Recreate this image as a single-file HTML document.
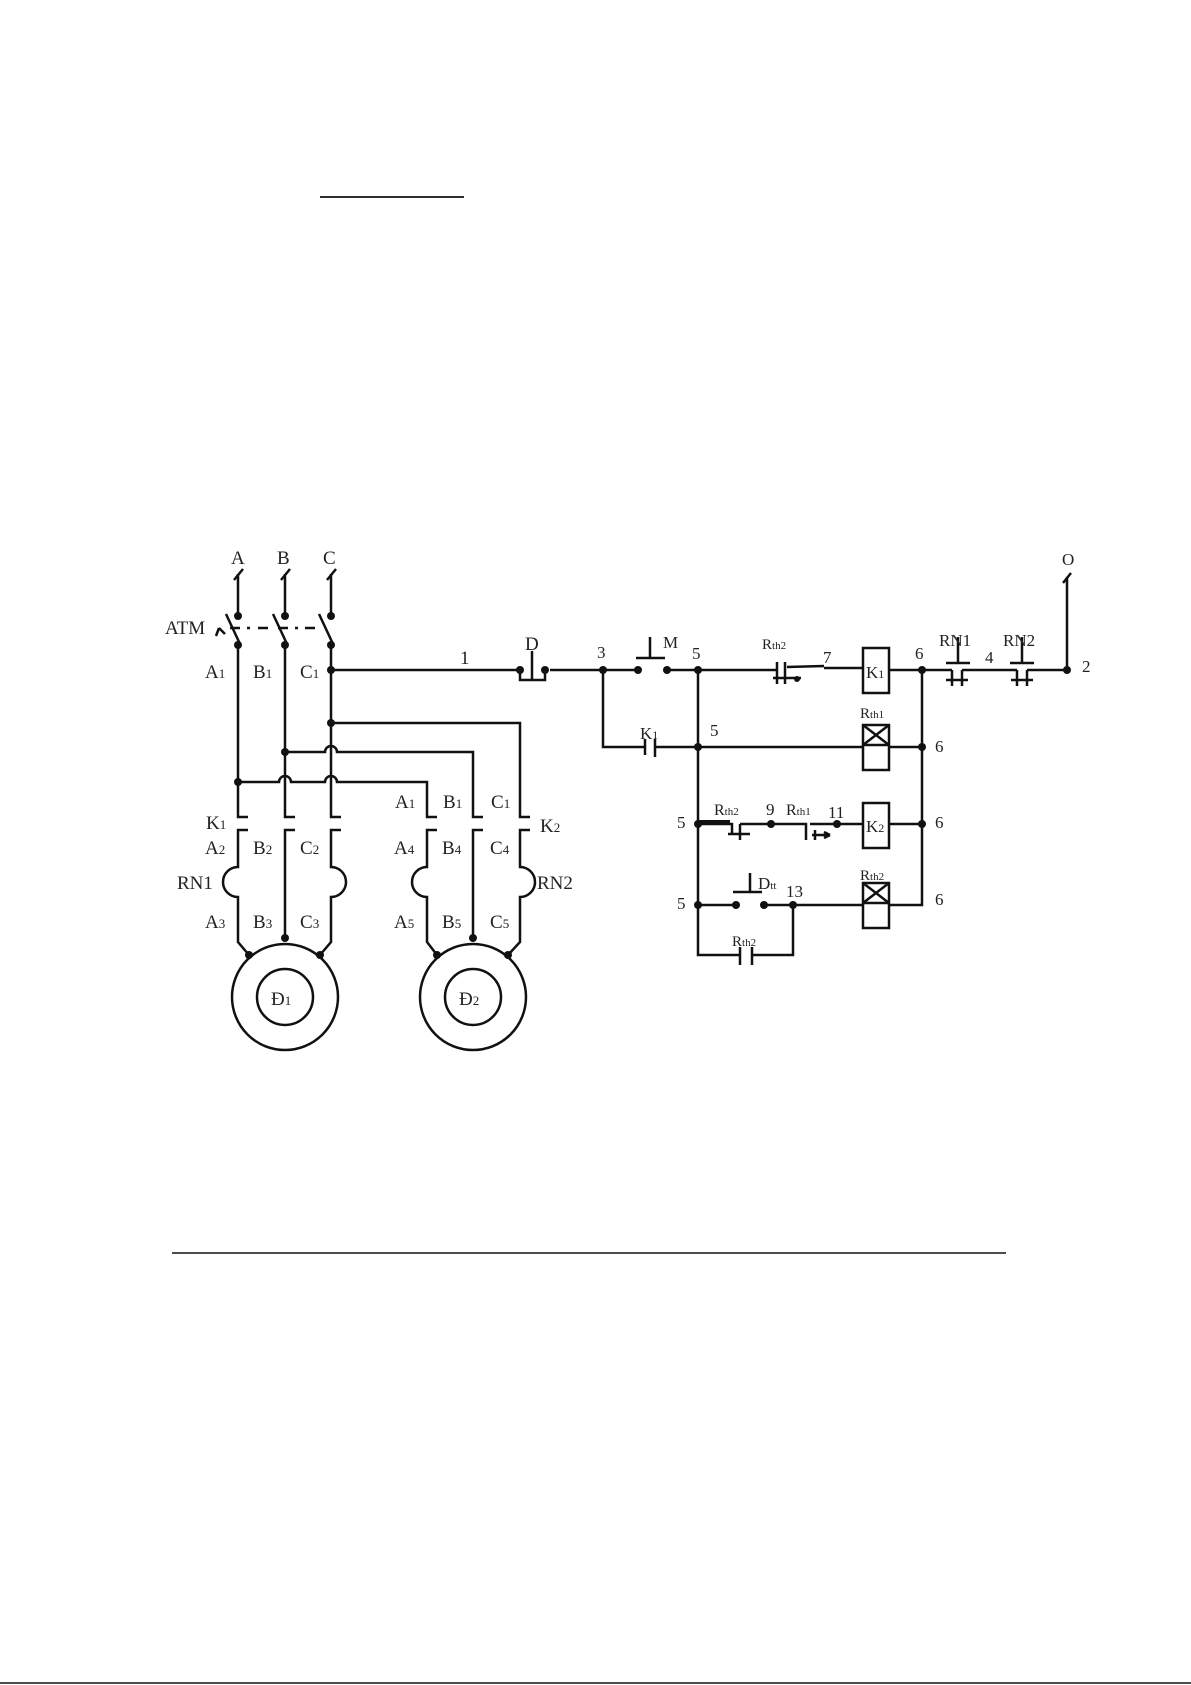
<!DOCTYPE html>
<html><head><meta charset="utf-8"><style>
html,body{margin:0;padding:0;background:#fff;}
svg{display:block;}
text{font-family:"Liberation Serif",serif;fill:#222;}
</style></head><body>
<svg width="1191" height="1685" viewBox="0 0 1191 1685" xmlns="http://www.w3.org/2000/svg">
<g stroke="#111" stroke-width="2.5" fill="none">
<line x1="320" y1="197" x2="464" y2="197" stroke-width="1.8"/>
<line x1="172" y1="1253" x2="1006" y2="1253" stroke-width="1.5"/>
<line x1="0" y1="1683" x2="1191" y2="1683" stroke-width="1.5"/>

<!-- supply arrows -->
<path d="M238 616V574M285 616V574M331 616V574"/>
<path d="M234 580L243 569M281 580L290 569M327 580L336 569"/>
<!-- ATM blades -->
<path d="M226 614L240 644M273 614L287 644M319 614L333 644"/>
<path d="M230 628H250M258 628H270M278 628H298M305 628H320" stroke-dasharray="10 7"/>
<path d="M219 628l6 6M219 628l-3 8"/>
<!-- phase verticals top -->
<path d="M238 645V817H248M285 645V817H295M331 645V817H341"/>
<!-- C1 to D -->
<path d="M331 670H520"/>
<!-- cross connections -->
<path d="M331 723H520V817H530"/>
<path d="M285 752H325a6 6 0 0 1 12 0H473V817H483"/>
<path d="M238 782H279a6 6 0 0 1 12 0H325a6 6 0 0 1 12 0H427V817H437"/>
<!-- lower portions motor1 -->
<path d="M248 830H238V867a15 15 0 0 0 0 30V942L249 955"/>
<path d="M295 830H285V938"/>
<path d="M341 830H331V867a15 15 0 0 1 0 30V942L320 955"/>
<!-- lower portions motor2 -->
<path d="M437 830H427V867a15 15 0 0 0 0 30V942L437 955"/>
<path d="M483 830H473V938"/>
<path d="M530 830H520V867a15 15 0 0 1 0 30V942L508 955"/>
<circle cx="285" cy="997" r="53"/><circle cx="285" cy="997" r="28"/>
<circle cx="473" cy="997" r="53"/><circle cx="473" cy="997" r="28"/>

<!-- control: D button -->
<path d="M520 670V680H545V670M532 680V651"/>
<path d="M550 670H638M667 670H698"/>
<path d="M636 658H665M650 658V637"/>
<path d="M603 670V747H645M655 747H698M645 739V755M655 739V757"/>
<!-- row1 -->
<path d="M698 670H777M777 662V684M785 662V684M773 678H801M787 667L824 666M824 668H863"/>
<rect x="863" y="648" width="26" height="45"/>
<path d="M889 670H952M962 670H1017M1027 670H1067V577"/>
<path d="M946 663H970M958 663V637M1010 663H1034M1022 663V637"/>
<path d="M952 670V686M962 670V686M1017 670V686M1027 670V686M946 680H968M1011 680H1033"/>
<path d="M1063 583l8-10"/>
<!-- row2 -->
<path d="M698 747H863M889 747H922"/>
<rect x="863" y="725" width="26" height="45"/><path d="M863 745H889M863 725L889 745M889 725L863 745"/>
<!-- verticals -->
<path d="M698 670V955H740M752 955H793V905M740 947V965M752 947V965"/>
<path d="M922 670V905H889"/>
<!-- row3 -->
<path d="M698 824H732V835M740 824V840M732 835M728 834H750M740 824H771H806V840M815 840V830M812 835H830M830 835l-6-3M830 835l-6 3M837 824H863M889 824H922"/>
<path d="M698 822H730" stroke-width="4"/>
<path d="M810 824H837"/>
<rect x="863" y="803" width="26" height="45"/>
<!-- row4 -->
<path d="M698 905H736M764 905H863M733 892H762M750 892V873"/>
<rect x="863" y="883" width="26" height="45"/><path d="M863 903H889M863 883L889 903M889 883L863 903"/>
</g>
<g fill="#111">
<circle cx="238" cy="616" r="4"/><circle cx="285" cy="616" r="4"/><circle cx="331" cy="616" r="4"/>
<circle cx="238" cy="645" r="4"/><circle cx="285" cy="645" r="4"/><circle cx="331" cy="645" r="4"/>
<circle cx="331" cy="670" r="4"/><circle cx="331" cy="723" r="4"/><circle cx="285" cy="752" r="4"/><circle cx="238" cy="782" r="4"/>
<circle cx="249" cy="955" r="4"/><circle cx="320" cy="955" r="4"/><circle cx="285" cy="938" r="4"/>
<circle cx="437" cy="955" r="4"/><circle cx="508" cy="955" r="4"/><circle cx="473" cy="938" r="4"/>
<circle cx="520" cy="670" r="4"/><circle cx="545" cy="670" r="4"/>
<circle cx="603" cy="670" r="4"/><circle cx="638" cy="670" r="4"/><circle cx="667" cy="670" r="4"/><circle cx="698" cy="670" r="4"/>
<circle cx="698" cy="747" r="4"/><circle cx="922" cy="670" r="4"/><circle cx="922" cy="747" r="4"/><circle cx="1067" cy="670" r="4"/>
<circle cx="698" cy="824" r="4"/><circle cx="771" cy="824" r="4"/><circle cx="837" cy="824" r="4"/><circle cx="922" cy="824" r="4"/>
<circle cx="698" cy="905" r="4"/><circle cx="736" cy="905" r="4"/><circle cx="764" cy="905" r="4"/><circle cx="793" cy="905" r="4"/>
<circle cx="797" cy="679" r="3"/>
</g>
<g font-size="19">
<text x="231" y="564">A</text><text x="277" y="564">B</text><text x="323" y="564">C</text>
<text x="165" y="634">ATM</text>
<text x="205" y="678">A<tspan font-size="13">1</tspan></text>
<text x="253" y="678">B<tspan font-size="13">1</tspan></text>
<text x="300" y="678">C<tspan font-size="13">1</tspan></text>
<text x="460" y="664">1</text><text x="525" y="650">D</text>
<text x="206" y="829">K<tspan font-size="13">1</tspan></text>
<text x="205" y="854">A<tspan font-size="13">2</tspan></text>
<text x="253" y="854">B<tspan font-size="13">2</tspan></text>
<text x="300" y="854">C<tspan font-size="13">2</tspan></text>
<text x="177" y="889">RN1</text>
<text x="205" y="928">A<tspan font-size="13">3</tspan></text>
<text x="253" y="928">B<tspan font-size="13">3</tspan></text>
<text x="300" y="928">C<tspan font-size="13">3</tspan></text>
<text x="395" y="808">A<tspan font-size="13">1</tspan></text>
<text x="443" y="808">B<tspan font-size="13">1</tspan></text>
<text x="491" y="808">C<tspan font-size="13">1</tspan></text>
<text x="540" y="832">K<tspan font-size="13">2</tspan></text>
<text x="394" y="854">A<tspan font-size="13">4</tspan></text>
<text x="442" y="854">B<tspan font-size="13">4</tspan></text>
<text x="490" y="854">C<tspan font-size="13">4</tspan></text>
<text x="537" y="889">RN2</text>
<text x="394" y="928">A<tspan font-size="13">5</tspan></text>
<text x="442" y="928">B<tspan font-size="13">5</tspan></text>
<text x="490" y="928">C<tspan font-size="13">5</tspan></text>
<text x="271" y="1005">Đ<tspan font-size="13">1</tspan></text>
<text x="459" y="1005">Đ<tspan font-size="13">2</tspan></text>
</g>
<g font-size="17">
<text x="597" y="658">3</text><text x="663" y="648">M</text><text x="692" y="659">5</text>
<text x="762" y="649" font-size="15">R<tspan font-size="11">th2</tspan></text>
<text x="823" y="663">7</text>
<text x="866" y="678">K<tspan font-size="12">1</tspan></text>
<text x="915" y="659">6</text>
<text x="939" y="646">RN1</text><text x="985" y="663">4</text><text x="1003" y="646">RN2</text>
<text x="1062" y="565">O</text><text x="1082" y="672">2</text>
<text x="640" y="739">K<tspan font-size="12">1</tspan></text>
<text x="710" y="736">5</text>
<text x="860" y="718" font-size="15">R<tspan font-size="11">th1</tspan></text>
<text x="935" y="752">6</text>
<text x="677" y="828">5</text>
<text x="714" y="815" font-size="16">R<tspan font-size="11">th2</tspan></text>
<text x="766" y="815">9</text>
<text x="786" y="815" font-size="16">R<tspan font-size="11">th1</tspan></text>
<text x="828" y="818">11</text>
<text x="866" y="832">K<tspan font-size="12">2</tspan></text>
<text x="935" y="828">6</text>
<text x="758" y="889">D<tspan font-size="11">tt</tspan></text>
<text x="786" y="897">13</text>
<text x="860" y="880" font-size="15">R<tspan font-size="11">th2</tspan></text>
<text x="677" y="909">5</text><text x="935" y="905">6</text>
<text x="732" y="946" font-size="15">R<tspan font-size="11">th2</tspan></text>
</g>
</svg>
</body></html>
